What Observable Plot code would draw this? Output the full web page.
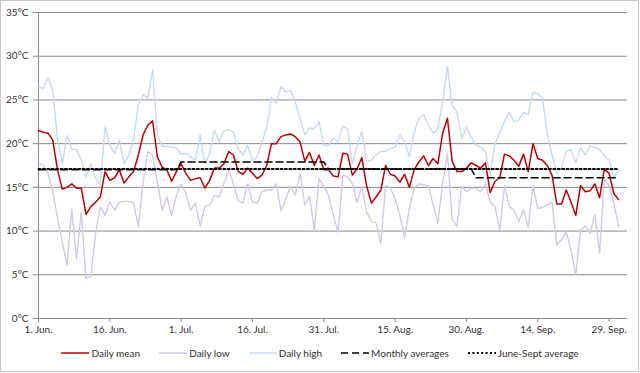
<!DOCTYPE html>
<html>
<head>
<meta charset="utf-8">
<script src="https://cdn.jsdelivr.net/npm/d3@7"></script>
<script src="https://cdn.jsdelivr.net/npm/@observablehq/plot@0.6"></script>
<style>
  body { margin: 0; background: #fff; font-family: Lato, "Open Sans", sans-serif; }
  #wrap { position: relative; width: 640px; height: 373px; overflow: hidden; }
  #frame { position: absolute; left: 0; top: 0; width: 637px; height: 370px; border: 1px solid #c8c8c8; pointer-events: none; }
  #chart { position: absolute; left: 0; top: 0; }
  #legend { position: absolute; left: 0; top: 344px; width: 640px; height: 18px; display: flex; justify-content: center; align-items: center; gap: 19px; font-size: 10px; color: #333; }
  .item { display: flex; align-items: center; gap: 2px; white-space: nowrap; }
  .item svg { display: block; }
</style>
</head>
<body>
<div id="wrap">
  <div id="chart"></div>
  <div id="legend"></div>
  <div id="frame"></div>
</div>
<script>
// ---- data (°C), one value per day starting 1 June ----
const startDate = "2013-06-01";
const dailyMean = [
  21.5, 21.3, 21.2, 20.4, 17.0, 14.8, 15.0, 15.4, 14.9, 14.9, 11.9, 12.8, 13.3, 13.9, 16.8, 15.8, 16.1, 17.0, 15.5, 16.2,
  16.8, 18.7, 21.0, 22.1, 22.6, 18.5, 17.3, 17.0, 15.7, 16.8, 17.7, 16.6, 15.8, 16.0, 16.1, 14.9, 15.8, 17.2, 17.2, 17.7, 19.1,
  18.7, 16.8, 16.5, 17.2, 16.6, 16.0, 16.4, 17.5, 20.0, 20.0, 20.8, 21.0, 21.1, 20.8, 20.2, 18.0, 19.0, 17.5, 18.7, 17.0,
  17.0, 16.3, 16.2, 18.9, 18.8, 16.4, 17.1, 18.4, 15.2, 13.2, 13.9, 14.7, 17.5, 16.5, 16.3, 15.6, 16.5, 15.0, 17.0, 17.9, 18.6,
  17.5, 18.3, 17.7, 21.2, 22.9, 18.0, 16.8, 16.8, 17.2, 17.8, 17.5, 17.2, 17.8, 14.4, 15.7, 16.1, 18.8, 18.6, 18.1, 17.4,
  18.8, 16.8, 20.0, 18.3, 18.1, 17.5, 16.4, 13.1, 13.1, 14.7, 13.3, 11.8, 15.2, 14.5, 14.6, 15.4, 13.8, 17.1, 16.6, 14.3, 13.6
];
const dailyLow = [
  17.8, 17.5, 16.6, 14.5, 11.5, 8.8, 6.1, 12.5, 6.8, 12.2, 4.6, 4.8, 9.7, 12.8, 11.8, 13.3, 12.4, 13.3, 13.4, 13.4,
  13.2, 10.5, 15.6, 19.1, 18.7, 15.6, 12.4, 13.9, 11.8, 14.1, 15.4, 14.3, 12.4, 13.2, 10.6, 12.8, 13.0, 14.1, 13.9, 15.4, 17.0,
  15.4, 13.5, 13.2, 15.4, 13.3, 13.2, 14.5, 14.7, 14.7, 15.4, 12.3, 13.7, 15.1, 14.1, 16.6, 13.0, 14.0, 10.1, 16.0, 15.1,
  14.1, 11.8, 9.9, 16.4, 16.2, 15.4, 13.3, 15.1, 12.2, 11.1, 10.9, 8.6, 15.2, 14.9, 13.7, 11.8, 9.2, 12.6, 14.9, 15.4, 15.3,
  15.2, 13.0, 10.9, 15.6, 18.9, 11.4, 10.5, 15.1, 14.5, 14.9, 14.9, 14.5, 15.4, 13.3, 12.8, 10.1, 15.2, 12.8, 12.4, 11.1,
  12.4, 10.4, 15.2, 12.6, 12.7, 13.0, 13.3, 8.4, 9.0, 9.9, 7.8, 5.0, 10.1, 10.6, 9.7, 11.9, 7.5, 15.9, 15.2, 13.2, 10.5
];
const dailyHigh = [
  26.5, 26.3, 27.5, 26.1, 20.5, 17.7, 20.9, 19.4, 19.3, 18.1, 16.2, 17.7, 16.0, 15.3, 21.9, 19.8, 18.9, 20.4, 17.7, 18.7,
  20.6, 24.4, 25.6, 25.2, 28.4, 21.0, 19.7, 19.7, 19.6, 19.5, 18.8, 18.9, 18.5, 18.1, 21.0, 17.7, 18.9, 21.5, 20.2, 21.5, 21.6,
  21.3, 19.4, 18.7, 19.8, 18.0, 18.5, 20.2, 21.9, 25.3, 24.6, 26.5, 25.9, 26.1, 24.8, 22.9, 21.0, 21.8, 21.7, 22.5, 19.8,
  19.8, 20.6, 20.2, 22.0, 21.7, 17.7, 19.8, 21.4, 17.9, 18.1, 18.7, 19.1, 19.1, 19.4, 19.6, 21.0, 20.2, 18.5, 21.3, 22.9, 23.3,
  22.1, 21.2, 21.7, 24.8, 28.8, 24.4, 23.6, 20.6, 21.9, 20.8, 19.8, 19.6, 19.1, 16.4, 19.9, 21.3, 22.5, 23.6, 22.5, 22.7,
  23.6, 23.3, 25.9, 25.7, 25.2, 21.0, 18.7, 16.6, 17.2, 19.1, 19.3, 17.8, 19.6, 18.7, 19.7, 19.6, 19.3, 18.6, 18.1, 16.2, 17.0
];
const monthNames = ["Jun", "Jul", "Aug", "Sep"];
const monthlyAverages = [17.0, 17.9, 17.1, 16.1];
const seasonAverage = 17.1;

const tickDates = ["2013-06-01", "2013-06-16", "2013-07-01", "2013-07-16", "2013-07-31", "2013-08-15", "2013-08-30", "2013-09-14", "2013-09-29"];
const tickLabels = ["1. Jun.", "16. Jun.", "1. Jul.", "16. Jul.", "31. Jul.", "15. Aug.", "30. Aug.", "14. Sep.", "29. Sep."];
const yTicks = [0, 5, 10, 15, 20, 25, 30, 35];
const axisEnd = "2013-10-02T21:00Z";

const seriesNames = ["Daily mean", "Daily low", "Daily high", "Monthly averages", "June-Sept average"];

// ---- build table ----
const day0 = new Date(startDate + "T00:00Z");
const rows = dailyMean.map((v, i) => {
  const date = d3.utcDay.offset(day0, i);
  const mi = Math.min(Math.max(date.getUTCMonth() - 5, 0), monthlyAverages.length - 1);
  return { date, mean: v, low: dailyLow[i], high: dailyHigh[i], monthly: monthlyAverages[mi], season: seasonAverage };
});
const ticks = tickDates.map(s => new Date(s + "T00:00Z"));
const labelByTime = new Map(ticks.map((t, i) => [+t, tickLabels[i]]));

const colors = { mean: "#c00000", low: "#d3c8e6", high: "#c3dcf0", avg: "#000" };
const gridColor = "#8a8a8a";
const font = "Lato, 'Open Sans', sans-serif";

const chart = Plot.plot({
  width: 640,
  height: 340,
  marginLeft: 38,
  marginRight: 13,
  marginTop: 12,
  marginBottom: 22,
  style: { fontFamily: font, fontSize: "10px", background: "transparent", color: "#333" },
  x: { type: "utc", domain: [day0, new Date(axisEnd)] },
  y: { domain: [0, 35] },
  marks: [
    Plot.gridY(yTicks, { stroke: gridColor, strokeOpacity: 1 }),
    Plot.ruleX([day0], { stroke: gridColor }),
    Plot.lineY(rows, { x: "date", y: "low", stroke: colors.low, strokeWidth: 1.4 }),
    Plot.lineY(rows, { x: "date", y: "high", stroke: colors.high, strokeWidth: 1.4 }),
    Plot.lineY(rows, { x: "date", y: "mean", stroke: colors.mean, strokeWidth: 1.5 }),
    Plot.lineY(rows, { x: "date", y: "monthly", stroke: colors.avg, strokeWidth: 1.5, strokeDasharray: "7,4" }),
    Plot.lineY(rows, { x: "date", y: "season", stroke: colors.avg, strokeWidth: 2, strokeDasharray: "2,2.4" }),
    Plot.axisX({ ticks, tickFormat: d => labelByTime.get(+d), tickSize: 4, tickPadding: 3, stroke: gridColor, fill: "#333", label: null }),
    Plot.axisY({ ticks: yTicks, tickFormat: d => d + "°C", tickSize: 5, tickPadding: 5, stroke: gridColor, fill: "#333", label: null })
  ]
});
document.getElementById("chart").appendChild(chart);

// ---- legend ----
const swatches = [
  { stroke: colors.mean, w: 1.5, dash: null },
  { stroke: colors.low, w: 1.4, dash: null },
  { stroke: colors.high, w: 1.4, dash: null },
  { stroke: colors.avg, w: 1.5, dash: "7,4" },
  { stroke: colors.avg, w: 2, dash: "2,2.4" }
];
const legend = d3.select("#legend");
seriesNames.forEach((name, i) => {
  const it = legend.append("div").attr("class", "item");
  const s = it.append("svg").attr("width", 28).attr("height", 10);
  s.append("line").attr("x1", 0).attr("x2", 28).attr("y1", 5).attr("y2", 5)
    .attr("stroke", swatches[i].stroke).attr("stroke-width", swatches[i].w)
    .attr("stroke-dasharray", swatches[i].dash);
  it.append("span").text(name);
});
</script>
</body>
</html>
